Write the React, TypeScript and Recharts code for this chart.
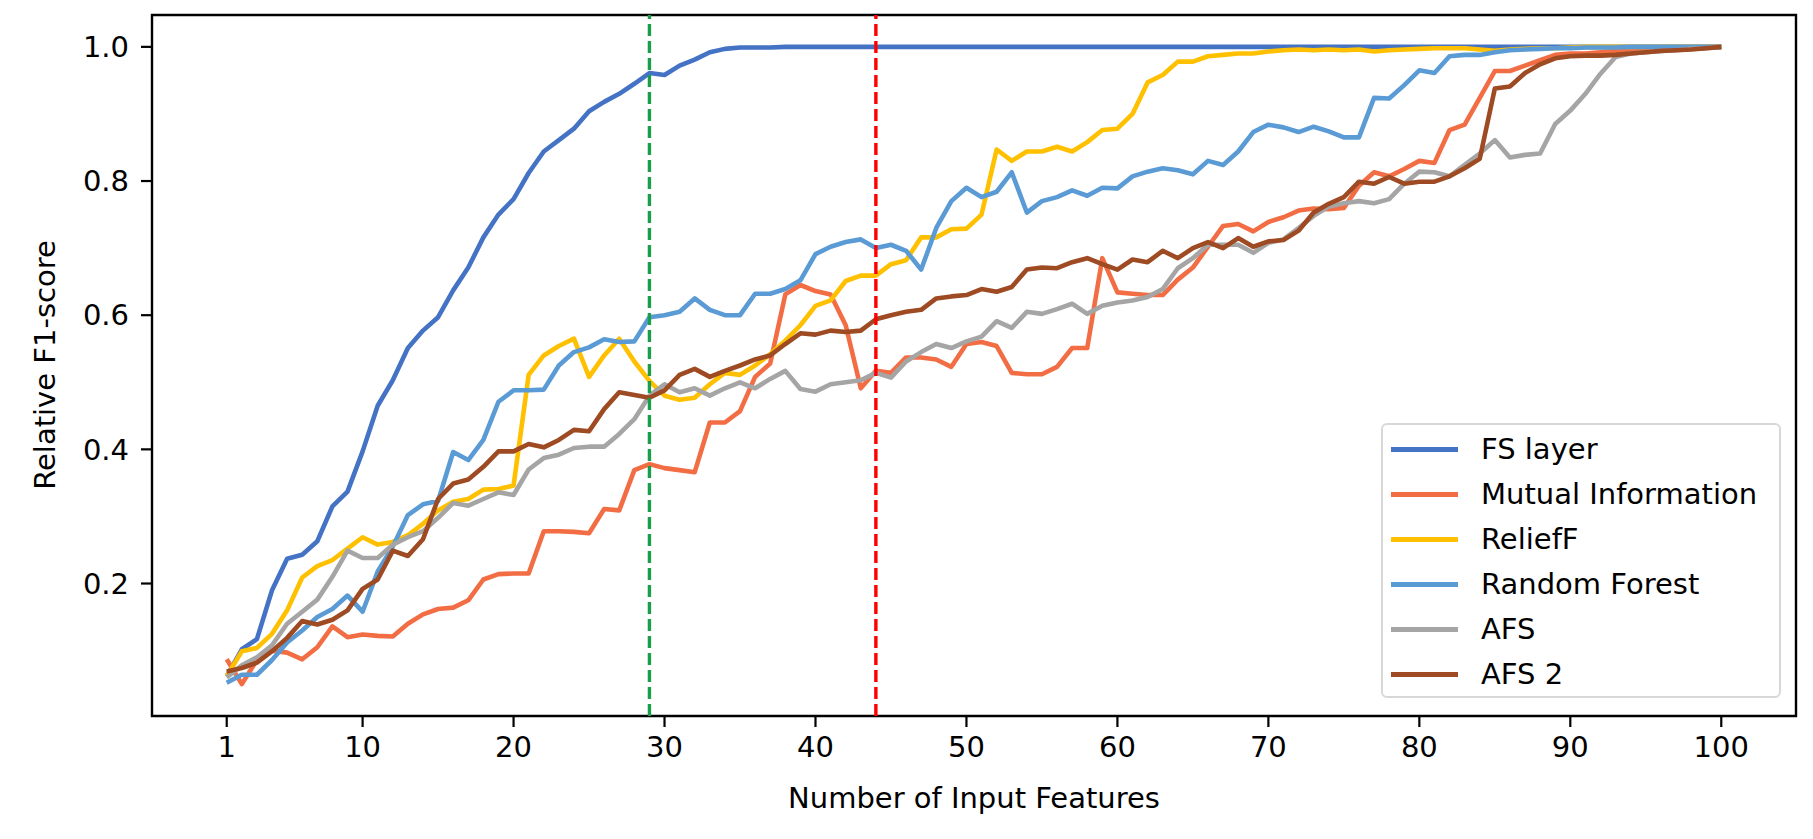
import React from 'react';
import { LineChart, Line, XAxis, YAxis, ReferenceLine, ReferenceArea } from 'recharts';

// number of input features (x positions)
const features = Array.from({ length: 100 }, (_, i) => i + 1);

const fsLayer = [
  0.062, 0.102, 0.117, 0.19, 0.237, 0.243, 0.263, 0.315, 0.337, 0.397,
  0.465, 0.503, 0.551, 0.577, 0.597, 0.637, 0.671, 0.716, 0.75, 0.773,
  0.812, 0.844, 0.861, 0.878, 0.904, 0.918, 0.93, 0.945, 0.961, 0.958,
  0.972, 0.981, 0.992, 0.997, 0.999, 0.999, 0.999, 1.0, 1.0, 1.0,
  1.0, 1.0, 1.0, 1.0, 1.0, 1.0, 1.0, 1.0, 1.0, 1.0,
  1.0, 1.0, 1.0, 1.0, 1.0, 1.0, 1.0, 1.0, 1.0, 1.0,
  1.0, 1.0, 1.0, 1.0, 1.0, 1.0, 1.0, 1.0, 1.0, 1.0,
  1.0, 1.0, 1.0, 1.0, 1.0, 1.0, 1.0, 1.0, 1.0, 1.0,
  1.0, 1.0, 1.0, 1.0, 1.0, 1.0, 1.0, 1.0, 1.0, 1.0,
  1.0, 1.0, 1.0, 1.0, 1.0, 1.0, 1.0, 1.0, 1.0, 1.0,
];

const mutualInfo = [
  0.087, 0.05, 0.086, 0.1, 0.097, 0.087, 0.105, 0.136, 0.12, 0.124,
  0.122, 0.121, 0.14, 0.154, 0.162, 0.164, 0.175, 0.206, 0.214, 0.215,
  0.215, 0.278, 0.278, 0.277, 0.275, 0.311, 0.309, 0.369, 0.378, 0.372,
  0.369, 0.366, 0.44, 0.44, 0.457, 0.508, 0.528, 0.631, 0.645, 0.636,
  0.631, 0.585, 0.491, 0.517, 0.514, 0.537, 0.537, 0.534, 0.523, 0.557,
  0.56, 0.554, 0.514, 0.512, 0.512, 0.523, 0.551, 0.551, 0.685, 0.634,
  0.632, 0.63, 0.63, 0.653, 0.671, 0.702, 0.733, 0.736, 0.725, 0.739,
  0.746, 0.756, 0.759, 0.758, 0.76, 0.793, 0.813, 0.807, 0.818, 0.83,
  0.827, 0.876, 0.884, 0.924, 0.964, 0.964, 0.972, 0.98, 0.988, 0.99,
  0.99, 0.992, 0.994, 0.995, 0.996, 0.997, 0.997, 0.998, 0.999, 1.0,
];

const reliefF = [
  0.062, 0.099, 0.104, 0.125, 0.16, 0.209, 0.226, 0.235, 0.252, 0.269,
  0.258, 0.262, 0.272, 0.289, 0.309, 0.322, 0.326, 0.34, 0.341, 0.346,
  0.511, 0.54, 0.554, 0.565, 0.508, 0.54, 0.565, 0.531, 0.502, 0.48,
  0.474, 0.477, 0.497, 0.514, 0.511, 0.525, 0.542, 0.562, 0.585, 0.614,
  0.622, 0.651, 0.659, 0.659, 0.676, 0.682, 0.716, 0.716, 0.728, 0.729,
  0.75, 0.847, 0.83, 0.844, 0.844, 0.851, 0.844, 0.858, 0.876, 0.878,
  0.9, 0.947, 0.958, 0.978, 0.978, 0.986, 0.988, 0.99, 0.99, 0.993,
  0.995, 0.996, 0.995, 0.996, 0.995, 0.996, 0.993, 0.995, 0.996, 0.997,
  0.998, 0.998, 0.998, 0.996, 0.994, 0.996, 0.997, 0.998, 0.998, 0.999,
  1.0, 1.0, 1.0, 1.0, 1.0, 1.0, 1.0, 1.0, 1.0, 1.0,
];

const randomForest = [
  0.052, 0.064, 0.064, 0.086, 0.112, 0.13, 0.15, 0.162, 0.182, 0.158,
  0.218, 0.255, 0.302, 0.318, 0.323, 0.396, 0.384, 0.414, 0.471, 0.488,
  0.488, 0.489, 0.525, 0.545, 0.552, 0.564, 0.56, 0.561, 0.597, 0.6,
  0.605, 0.625, 0.608, 0.6, 0.6, 0.632, 0.632, 0.639, 0.652, 0.691,
  0.702, 0.709, 0.713, 0.7, 0.705, 0.696, 0.668, 0.73, 0.77, 0.79,
  0.776, 0.784, 0.813, 0.753, 0.77, 0.776, 0.786, 0.778, 0.79, 0.789,
  0.807, 0.814, 0.819, 0.816, 0.81, 0.83, 0.824, 0.844, 0.873, 0.884,
  0.88, 0.873, 0.881, 0.874, 0.865, 0.865, 0.924, 0.923, 0.943, 0.965,
  0.961, 0.986, 0.988, 0.988, 0.992, 0.995, 0.996, 0.997, 0.998, 0.998,
  0.999, 0.999, 0.999, 1.0, 1.0, 1.0, 1.0, 1.0, 1.0, 1.0,
];

const afs = [
  0.06, 0.078, 0.09, 0.108, 0.14, 0.158, 0.176, 0.21, 0.249, 0.238,
  0.238, 0.258, 0.269, 0.278, 0.298, 0.32, 0.316, 0.326, 0.336, 0.332,
  0.37, 0.387, 0.392, 0.402, 0.404, 0.404, 0.423, 0.445, 0.48, 0.497,
  0.485, 0.491, 0.48, 0.491, 0.5, 0.491, 0.505, 0.517, 0.49, 0.486,
  0.497, 0.5, 0.503, 0.514, 0.507, 0.531, 0.545, 0.557, 0.551, 0.561,
  0.568, 0.591, 0.581, 0.605, 0.602, 0.609, 0.617, 0.602, 0.614, 0.619,
  0.622, 0.627, 0.639, 0.67, 0.685, 0.705, 0.705, 0.705, 0.693, 0.708,
  0.713, 0.73, 0.748, 0.762, 0.767, 0.77, 0.767, 0.773, 0.796, 0.814,
  0.813, 0.807, 0.824, 0.841, 0.861, 0.835, 0.839, 0.841, 0.885, 0.905,
  0.93, 0.96, 0.985, 0.99, 0.992, 0.994, 0.995, 0.997, 0.998, 1.0,
];

const afs2 = [
  0.069, 0.074, 0.082, 0.099, 0.119, 0.144, 0.139, 0.146, 0.16, 0.192,
  0.206, 0.249, 0.241, 0.266, 0.326, 0.349, 0.355, 0.374, 0.397, 0.397,
  0.408, 0.403, 0.414, 0.429, 0.427, 0.46, 0.485, 0.481, 0.477, 0.488,
  0.511, 0.52, 0.508, 0.517, 0.525, 0.534, 0.54, 0.557, 0.573, 0.571,
  0.577, 0.575, 0.577, 0.594, 0.6, 0.605, 0.608, 0.625, 0.628, 0.63,
  0.639, 0.635, 0.642, 0.668, 0.671, 0.67, 0.679, 0.685, 0.676, 0.668,
  0.683, 0.679, 0.696, 0.685, 0.7, 0.709, 0.7, 0.715, 0.702, 0.71,
  0.712, 0.726, 0.753, 0.766, 0.776, 0.799, 0.796, 0.806, 0.796, 0.799,
  0.799, 0.807, 0.819, 0.833, 0.938, 0.941, 0.961, 0.974, 0.983, 0.986,
  0.987, 0.987, 0.988, 0.99, 0.992, 0.994, 0.995, 0.996, 0.998, 1.0,
];

const xTicks = [1, 10, 20, 30, 40, 50, 60, 70, 80, 90, 100];
const yTicks = [0.2, 0.4, 0.6, 0.8, 1.0];

const series = [
  { key: 'fs', name: 'FS layer', color: '#4472C4', values: fsLayer },
  { key: 'mi', name: 'Mutual Information', color: '#F26D44', values: mutualInfo },
  { key: 'relief', name: 'ReliefF', color: '#FFC000', values: reliefF },
  { key: 'rf', name: 'Random Forest', color: '#5B9BD5', values: randomForest },
  { key: 'afs', name: 'AFS', color: '#A5A5A5', values: afs },
  { key: 'afs2', name: 'AFS 2', color: '#9E4A22', values: afs2 },
];

const data = features.map((n, i) => {
  const row: Record<string, number> = { n };
  series.forEach(s => { row[s.key] = s.values[i]; });
  return row;
});

const FONT = '"DejaVu Sans", sans-serif';
const X_DOMAIN: [number, number] = [-3.95, 104.95];
const Y_DOMAIN: [number, number] = [0.0025, 1.0475];

export default function App() {
  const tickStyle = { fill: '#000', fontSize: 29, fontFamily: FONT };
  return (
    <div style={{ position: 'absolute', left: 0, top: 0, width: 1813, height: 839, background: '#fff', fontFamily: FONT }}>
      <LineChart width={1813} height={839} data={data} margin={{ top: 15, right: 17, bottom: 0, left: 0 }}>
        <XAxis
          dataKey="n"
          type="number"
          domain={X_DOMAIN}
          ticks={xTicks}
          interval={0}
          allowDataOverflow
          height={123}
          axisLine={false}
          tickLine={{ stroke: '#000', strokeWidth: 2.2 }}
          tickSize={11}
          tickMargin={9}
          tick={tickStyle}
        />
        <YAxis
          type="number"
          domain={Y_DOMAIN}
          ticks={yTicks}
          interval={0}
          allowDataOverflow
          width={152}
          axisLine={false}
          tickLine={{ stroke: '#000', strokeWidth: 2.2 }}
          tickSize={11}
          tickMargin={12}
          tick={tickStyle}
          tickFormatter={(v: number) => v.toFixed(1)}
        />
        {series.map(s => (
          <Line
            key={s.key}
            type="linear"
            dataKey={s.key}
            name={s.name}
            stroke={s.color}
            strokeWidth={4.6}
            strokeLinejoin="round"
            dot={false}
            activeDot={false}
            isAnimationActive={false}
          />
        ))}
        <ReferenceLine x={29} stroke="#1B9E4B" strokeWidth={3.4} strokeDasharray="12 5" />
        <ReferenceLine x={44} stroke="#FF0000" strokeWidth={3.4} strokeDasharray="12 5" />
        <ReferenceArea
          x1={X_DOMAIN[0]}
          x2={X_DOMAIN[1]}
          y1={Y_DOMAIN[0]}
          y2={Y_DOMAIN[1]}
          fill="none"
          fillOpacity={0}
          stroke="#000"
          strokeWidth={2.4}
          ifOverflow="visible"
        />
      </LineChart>

      {/* axis titles */}
      <div style={{ position: 'absolute', left: 974, top: 798, transform: 'translate(-50%, -50%)', fontSize: 29, whiteSpace: 'nowrap', color: '#000' }}>
        Number of Input Features
      </div>
      <div style={{ position: 'absolute', left: 45, top: 365, transform: 'translate(-50%, -50%) rotate(-90deg)', fontSize: 29, whiteSpace: 'nowrap', color: '#000' }}>
        Relative F1-score
      </div>

      {/* legend, lower right inside the axes */}
      <div style={{ position: 'absolute', left: 1381, top: 423, width: 400, height: 275, boxSizing: 'border-box', border: '2px solid #d8d8d8', borderRadius: 6, background: 'rgba(255,255,255,0.8)' }}>
        {series.map((s, i) => (
          <div key={s.key} style={{ position: 'absolute', left: 0, top: 2 + i * 45, height: 45, width: '100%' }}>
            <div style={{ position: 'absolute', left: 8, top: 20.2, width: 67, height: 4.6, background: s.color }} />
            <div style={{ position: 'absolute', left: 98, top: 0, height: 45, lineHeight: '45px', fontSize: 29, whiteSpace: 'nowrap', color: '#000' }}>
              {s.name}
            </div>
          </div>
        ))}
      </div>
    </div>
  );
}
